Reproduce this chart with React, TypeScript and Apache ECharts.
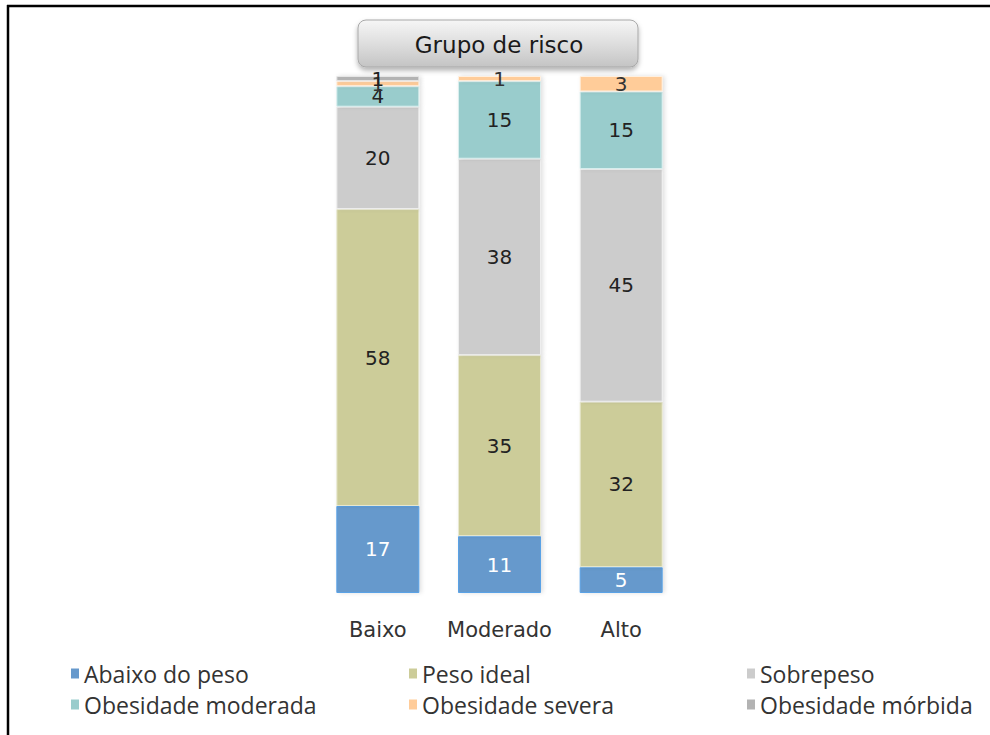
import React, { useEffect, useRef } from "react";
import * as echarts from "echarts";

const categories = ["Baixo", "Moderado", "Alto"];
const seriesNames = [
  "Abaixo do peso",
  "Peso ideal",
  "Sobrepeso",
  "Obesidade moderada",
  "Obesidade severa",
  "Obesidade mórbida",
];
const abaixoDoPeso = [17, 11, 5];
const pesoIdeal = [58, 35, 32];
const sobrepeso = [20, 38, 45];
const obesidadeModerada = [4, 15, 15];
const obesidadeSevera = [1, 1, 3];
const obesidadeMorbida = [1, 0, 0];

const seriesValues = [
  abaixoDoPeso,
  pesoIdeal,
  sobrepeso,
  obesidadeModerada,
  obesidadeSevera,
  obesidadeMorbida,
];
const colors = ["#6699cc", "#cccc99", "#cccccc", "#99cccc", "#ffcc99", "#b3b3b3"];
const borderColors = ["#5aa2e6", "#e8e8d0", "#eeeeee", "#d8eeee", "#fff0e0", "#e6e6e6"];
const labelColors = ["#ffffff", "#222222", "#222222", "#222222", "#333333", "#222222"];

const legendPos = [
  { left: 66, top: 657 },
  { left: 404, top: 657 },
  { left: 742, top: 657 },
  { left: 66, top: 688 },
  { left: 404, top: 688 },
  { left: 742, top: 688 },
];

export default function App() {
  const ref = useRef<HTMLDivElement>(null);

  useEffect(() => {
    if (!ref.current) return;
    const chart = echarts.init(ref.current, null, { renderer: "svg" });

    const totals = categories.map((_, i) =>
      seriesValues.reduce((s, arr) => s + arr[i], 0)
    );

    const series = seriesNames.map((name, k) => ({
      name,
      type: "bar",
      stack: "total",
      barWidth: 83,
      data: seriesValues[k].map((v, i) => ({
        value: (v / totals[i]) * 100,
        raw: v,
      })),
      itemStyle: {
        color: colors[k],
        borderColor: borderColors[k],
        borderWidth: 1,
        shadowBlur: 4,
        shadowOffsetX: 2,
        shadowColor: "rgba(0,0,0,0.12)",
      },
      label: {
        show: true,
        position: "inside",
        fontFamily: "DejaVu Sans",
        fontSize: 20,
        color: labelColors[k],
        formatter: (p: any) => (p.data.raw ? String(p.data.raw) : ""),
      },
      emphasis: { disabled: true },
    }));

    const legends = seriesNames.map((name, k) => ({
      data: [name],
      left: legendPos[k].left,
      top: legendPos[k].top,
      icon: "rect",
      itemWidth: 8,
      itemHeight: 10,
      selectedMode: false,
      itemStyle: { borderWidth: 0, shadowBlur: 0 },
      textStyle: {
        fontFamily: "Open Sans",
        fontSize: 23,
        color: "#333333",
      },
    }));

    chart.setOption({
      animation: false,
      backgroundColor: "#ffffff",
      grid: { left: 317, width: 365, top: 76, bottom: 142 },
      legend: legends,
      xAxis: {
        type: "category",
        data: categories,
        axisLine: { show: false },
        axisTick: { show: false },
        axisLabel: {
          interval: 0,
          fontFamily: "DejaVu Sans",
          fontSize: 21,
          color: "#333333",
          margin: 26,
        },
      },
      yAxis: {
        type: "value",
        min: 0,
        max: 100,
        show: false,
        splitLine: { show: false },
      },
      series,
      graphic: [
        {
          type: "line",
          shape: { x1: 7, y1: 6, x2: 990, y2: 6 },
          style: { stroke: "#000000", lineWidth: 2.5 },
        },
        {
          type: "line",
          shape: { x1: 8, y1: 5, x2: 8, y2: 735 },
          style: { stroke: "#000000", lineWidth: 2.5 },
        },
        {
          type: "rect",
          shape: { x: 358, y: 20, width: 280, height: 47, r: 8 },
          style: {
            fill: new echarts.graphic.LinearGradient(0, 0, 0, 1, [
              { offset: 0, color: "#f6f6f6" },
              { offset: 0.5, color: "#dedede" },
              { offset: 1, color: "#c4c4c4" },
            ]),
            stroke: "#a8a8a8",
            lineWidth: 1,
            shadowBlur: 5,
            shadowOffsetY: 3,
            shadowColor: "rgba(0,0,0,0.3)",
          },
        },
        {
          type: "text",
          x: 499,
          y: 45,
          style: {
            text: "Grupo de risco",
            fontFamily: "DejaVu Sans",
            fontSize: 23,
            fill: "#1a1a1a",
            align: "center",
            verticalAlign: "middle",
          },
        },
      ],
    });

    return () => chart.dispose();
  }, []);

  return (
    <div
      ref={ref}
      style={{ position: "absolute", left: 0, top: 0, width: 990, height: 735 }}
    />
  );
}
